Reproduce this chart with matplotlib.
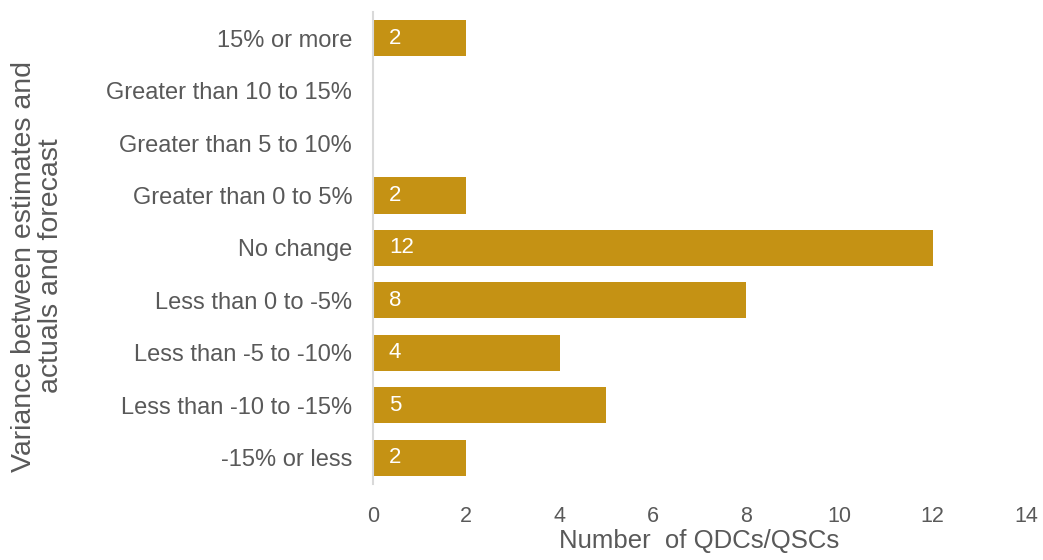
import matplotlib
matplotlib.use("Agg")
import matplotlib.pyplot as plt

categories = ["15% or more", "Greater than 10 to 15%", "Greater than 5 to 10%",
              "Greater than 0 to 5%", "No change", "Less than 0 to -5%",
              "Less than -5 to -10%", "Less than -10 to -15%", "-15% or less"]
values = [2, 0, 0, 2, 12, 8, 4, 5, 2]
xticks = [0, 2, 4, 6, 8, 10, 12, 14]

plt.rcParams['font.family'] = ['Liberation Sans', 'DejaVu Sans']
fig = plt.figure(figsize=(10.43, 5.6), dpi=100)
ax = fig.add_axes([0.3576, 0.136, 0.6261, 0.8425])

color = "#C59214"
grey = "#595959"
ypos = list(range(len(categories)))
ax.barh(ypos, values, height=0.69, color=color)
for y, v in zip(ypos, values):
    if v > 0:
        ax.annotate(str(v), (0, y), xytext=(11.5, 0), textcoords="offset points",
                    va="center", ha="left", color="white", fontsize=16)

ax.set_ylim(len(categories) - 0.5, -0.5)
ax.set_xlim(0, 14)
ax.set_xticks(xticks)
ax.set_yticks(ypos)
ax.set_yticklabels(categories)
ax.tick_params(axis='both', length=0, colors=grey)
ax.tick_params(axis='y', pad=15, labelsize=17)
ax.tick_params(axis='x', pad=16, labelsize=15.5)
for s in ["top", "right", "bottom"]:
    ax.spines[s].set_visible(False)
ax.spines["left"].set_color("#D9D9D9")
ax.spines["left"].set_linewidth(1.5)

fig.text(0.6706, 0.012, "Number  of QDCs/QSCs", ha="center", va="bottom",
         fontsize=18.5, color=grey)
fig.text(0.036, 0.525, "Variance between estimates and\nactuals and forecast",
         rotation=90, ha="center", va="center", fontsize=20.5, color=grey,
         multialignment="center", linespacing=1.05)

fig.savefig("out.png", dpi=100)
